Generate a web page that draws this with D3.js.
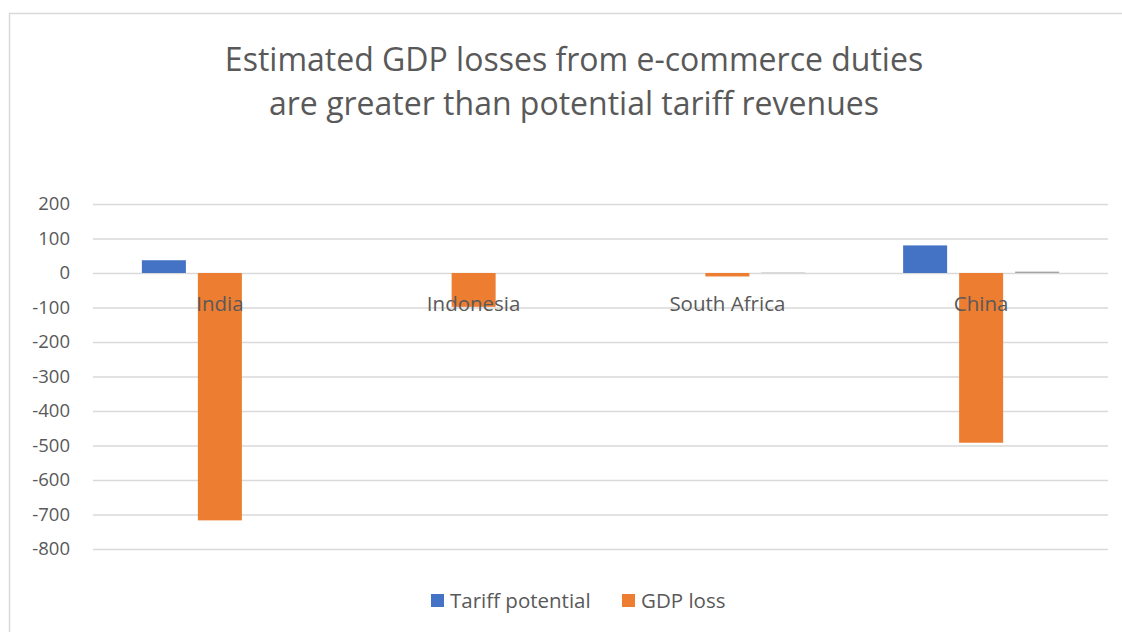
<!DOCTYPE html>
<html>
<head>
<meta charset="utf-8">
<script src="https://cdn.jsdelivr.net/npm/d3@7"></script>
<style>
    html, body { margin: 0; padding: 0; background: #fff; }
    svg { display: block; font-family: "Open Sans", "Liberation Sans", sans-serif; }
</style>
</head>
<body>
<svg id="chart"></svg>
<script>
let countries = ["India", "Indonesia", "South Africa", "China"];
let seriesNames = ["Tariff potential", "GDP loss", "Other"];
let tariffPotential = [37, 0, 0, 80];
let gdpLoss = [-717, -98, -10, -492];
let otherValues = [0, 0, 1, 4];
let yTicks = [200, 100, 0, -100, -200, -300, -400, -500, -600, -700, -800];
let legendNames = ["Tariff potential", "GDP loss"];
let titleLines = ["Estimated GDP losses from e-commerce duties", "are greater than potential tariff revenues"];

window.onload = () =>
{
    let width = 1122;
    let height = 632;
    let margin = {top: 204, right: 14, bottom: 83, left: 93};
    let textColor = "#595959";
    let colors = d3.scaleOrdinal(seriesNames, ["#4472C4", "#ED7D31", "#A5A5A5"]);

    let svg = d3.select("#chart").attr("width", width).attr("height", height);

    // chart frame
    svg.append("path")
        .attr("d", `M9.5,${height}V13.5H${width}`)
        .attr("fill", "none")
        .attr("stroke", "#d9d9d9")
        .attr("stroke-width", 1.5);

    let table = countries.map((name, i) => ({
        name,
        values: [tariffPotential[i], gdpLoss[i], otherValues[i]]
    }));

    let yScale = d3.scaleLinear([-800, 200], [height - margin.bottom, margin.top]);
    let xCategory = d3.scaleBand(countries, [margin.left, width - margin.right]);
    let groupWidth = 156;
    let xSeries = d3.scaleBand(seriesNames, [(xCategory.bandwidth() - groupWidth) / 2, (xCategory.bandwidth() + groupWidth) / 2])
        .paddingInner(0.214);

    // title
    let title = svg.append("g")
        .attr("fill", textColor)
        .attr("text-anchor", "middle")
        .style("font-size", "32px");
    title.selectAll("text")
        .data(titleLines)
        .join("text")
        .attr("x", width / 2 + 13)
        .attr("y", (d, i) => 71 + i * 44)
        .text(d => d);

    // grid and y axis
    let yAxis = d3.axisLeft(yScale)
        .tickValues(yTicks)
        .tickSize(-(width - margin.right - margin.left))
        .tickPadding(23)
        .tickFormat(d3.format("d"));

    let axisG = svg.append("g")
        .attr("transform", `translate(${margin.left},0)`)
        .call(yAxis);
    axisG.select(".domain").remove();
    axisG.selectAll(".tick line").attr("stroke", "#d9d9d9").attr("stroke-width", 1.3);
    axisG.selectAll(".tick text")
        .attr("fill", textColor)
        .style("font-size", "18.5px")
        .style("font-family", "\"Open Sans\", sans-serif")
        .text(d => d < 0 ? "-" + Math.abs(d) : d);

    // bars
    let groups = svg.append("g")
        .selectAll("g")
        .data(table)
        .join("g")
        .attr("transform", d => `translate(${xCategory(d.name)},0)`);

    groups.selectAll("rect")
        .data(d => d.values.map((value, i) => ({series: seriesNames[i], value})))
        .join("rect")
        .attr("x", d => xSeries(d.series))
        .attr("width", xSeries.bandwidth())
        .attr("y", d => yScale(Math.max(0, d.value)))
        .attr("height", d => Math.abs(yScale(d.value) - yScale(0)))
        .attr("fill", d => colors(d.series));

    // category labels next to zero line
    svg.append("g")
        .attr("fill", textColor)
        .attr("text-anchor", "middle")
        .style("font-size", "20.5px")
        .selectAll("text")
        .data(countries)
        .join("text")
        .attr("x", d => xCategory(d) + xCategory.bandwidth() / 2)
        .attr("y", yScale(0) + 38)
        .text(d => d);

    // legend
    let legend = svg.append("g")
        .style("font-size", "20.5px")
        .attr("fill", textColor);
    let legendX = [431, 622];
    let legendItem = legend.selectAll("g")
        .data(legendNames)
        .join("g")
        .attr("transform", (d, i) => `translate(${legendX[i]},594)`);
    legendItem.append("rect")
        .attr("width", 13)
        .attr("height", 13)
        .attr("fill", d => colors(d));
    legendItem.append("text")
        .attr("x", 19)
        .attr("y", 14)
        .text(d => d);
};
</script>
</body>
</html>
